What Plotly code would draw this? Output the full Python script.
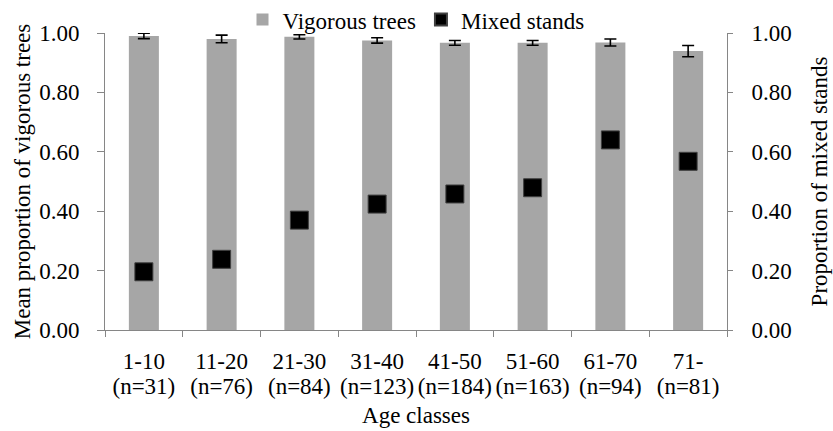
import plotly.graph_objects as go

age_classes = ["1-10", "11-20", "21-30", "31-40", "41-50", "51-60", "61-70", "71-"]
n_labels = ["(n=31)", "(n=76)", "(n=84)", "(n=123)", "(n=184)", "(n=163)", "(n=94)", "(n=81)"]
vigorous = [0.990, 0.980, 0.987, 0.975, 0.967, 0.967, 0.968, 0.939]
vigorous_err = [0.009, 0.013, 0.007, 0.009, 0.008, 0.008, 0.012, 0.019]
mixed = [0.196, 0.238, 0.370, 0.424, 0.458, 0.479, 0.640, 0.568]
y_ticks = [0, 0.2, 0.4, 0.6, 0.8, 1.0]

FONT = "Liberation Serif"
AXC = "#868686"
FS = 23
F = dict(family=FONT, size=FS, color="black")

fig = go.Figure()
fig.add_trace(go.Bar(
    x=age_classes, y=vigorous, name="Vigorous trees",
    marker=dict(color="#a6a6a6", line=dict(width=0)),
    error_y=dict(type="data", array=vigorous_err, color="black", thickness=1.6, width=6),
    xaxis="x", yaxis="y",
))
fig.add_trace(go.Scatter(
    x=age_classes, y=mixed, name="Mixed stands", mode="markers",
    marker=dict(symbol="square", size=18, color="black", line=dict(color="#404040", width=1)),
    xaxis="x", yaxis="y2",
))
# carrier for the second line of the category labels (sample sizes)
fig.add_trace(go.Scatter(
    x=age_classes, y=[None] * len(age_classes), mode="markers", showlegend=False,
    hoverinfo="skip", xaxis="x2", yaxis="y",
))

fig.update_layout(
    width=833, height=431,
    margin=dict(l=105, r=106, t=33, b=101, autoexpand=False),
    paper_bgcolor="white", plot_bgcolor="white",
    font=F,
    bargap=0.614,
    showlegend=True,
    hovermode=False,
    legend=dict(orientation="h", x=0.5, xanchor="center", y=1.045, yanchor="middle",
                font=F, itemwidth=30, itemsizing="constant", bgcolor="rgba(0,0,0,0)"),
    xaxis=dict(
        type="category", categoryorder="array", categoryarray=age_classes,
        range=[-0.5, len(age_classes) - 0.5],
        showline=True, linecolor=AXC, linewidth=1,
        ticks="outside", tickson="boundaries", ticklen=6, tickcolor=AXC,
        showgrid=False, zeroline=False, tickangle=0, automargin=False,
        ticklabelstandoff=10,
        tickfont=F,
    ),
    xaxis2=dict(
        type="category", categoryorder="array", categoryarray=age_classes,
        range=[-0.5, len(age_classes) - 0.5],
        overlaying="x", side="bottom", anchor="y",
        tickmode="array", tickvals=age_classes, ticktext=n_labels,
        showline=False, ticks="", showgrid=False, zeroline=False, tickangle=0,
        automargin=False, ticklabelstandoff=40,
        title=dict(text="Age classes", standoff=8, font=F),
        tickfont=F,
    ),
    yaxis=dict(
        range=[0, 1], tickmode="array", tickvals=y_ticks, tickformat=".2f",
        showline=True, linecolor=AXC, linewidth=1,
        ticks="outside", ticklen=7, tickcolor=AXC, ticklabelstandoff=13,
        showgrid=False, zeroline=False, automargin=False,
        title=dict(text="Mean proportion of vigorous trees", standoff=2, font=F),
        tickfont=F,
    ),
    yaxis2=dict(
        range=[0, 1], tickmode="array", tickvals=y_ticks, tickformat=".2f",
        overlaying="y", side="right", anchor="x",
        showline=True, linecolor=AXC, linewidth=1,
        ticks="outside", ticklen=5, tickcolor=AXC, ticklabelstandoff=14,
        showgrid=False, zeroline=False, automargin=False,
        title=dict(text="Proportion of mixed stands", standoff=20, font=F),
        tickfont=F,
    ),
)

fig.write_html("out.html", config={"displayModeBar": False},
               post_script="document.body.style.margin='0';")
